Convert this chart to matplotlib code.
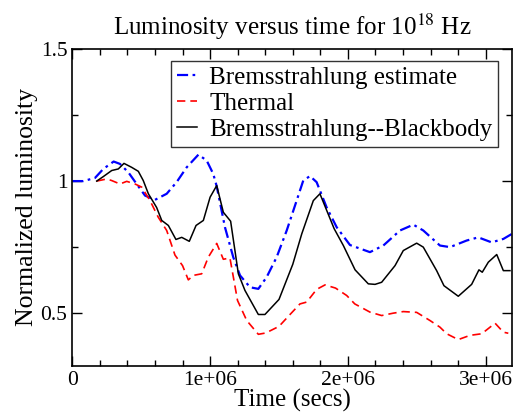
import matplotlib
matplotlib.use('Agg')
import matplotlib.pyplot as plt
from matplotlib.ticker import MultipleLocator

plt.rcParams['font.family'] = ['Liberation Serif', 'DejaVu Serif']
plt.rcParams['mathtext.fontset'] = 'stix'

# Bremsstrahlung estimate (time in 1e6 s)
t_brems = [0.0, 0.08, 0.165, 0.225, 0.30, 0.346, 0.407, 0.467, 0.528, 0.60, 0.685,
           0.757, 0.83, 0.915, 0.975, 1.023, 1.048, 1.108, 1.168, 1.217, 1.29, 1.35,
           1.41, 1.483, 1.556, 1.628, 1.676, 1.725, 1.773, 1.846, 1.919, 2.015, 2.16,
           2.257, 2.378, 2.475, 2.547, 2.668, 2.741, 2.862, 2.946, 3.043, 3.128, 3.19]
l_brems = [1.0, 1.0, 1.012, 1.046, 1.074, 1.065, 1.033, 0.989, 0.945, 0.929, 0.952,
           0.996, 1.052, 1.10, 1.078, 1.027, 0.980, 0.825, 0.712, 0.643, 0.598, 0.592,
           0.636, 0.712, 0.813, 0.926, 1.002, 1.019, 0.996, 0.90, 0.825, 0.758, 0.731,
           0.756, 0.813, 0.835, 0.813, 0.756, 0.75, 0.775, 0.787, 0.768, 0.781, 0.80]

# Thermal
t_therm = [0.177, 0.25, 0.286, 0.346, 0.395, 0.455, 0.504, 0.564, 0.624, 0.685,
           0.745, 0.80, 0.842, 0.878, 0.939, 0.987, 1.048, 1.096, 1.144, 1.199,
           1.266, 1.35, 1.404, 1.50, 1.58, 1.652, 1.701, 1.773, 1.834, 1.91, 1.991,
           2.05, 2.16, 2.245, 2.329, 2.402, 2.499, 2.596, 2.668, 2.717, 2.801, 2.886,
           2.971, 3.068, 3.128, 3.164]
l_therm = [1.0, 1.008, 1.002, 0.989, 0.999, 0.989, 0.977, 0.926, 0.863, 0.813,
           0.72, 0.68, 0.626, 0.643, 0.649, 0.712, 0.764, 0.704, 0.709, 0.548,
           0.472, 0.42, 0.425, 0.45, 0.495, 0.535, 0.542, 0.59, 0.607, 0.595, 0.567,
           0.535, 0.504, 0.491, 0.50, 0.506, 0.503, 0.472, 0.447, 0.422, 0.40, 0.416,
           0.422, 0.462, 0.428, 0.424]

# Bremsstrahlung--Blackbody
t_bb = [0.177, 0.225, 0.286, 0.334, 0.375, 0.431, 0.479, 0.515, 0.552, 0.612, 0.649,
        0.697, 0.752, 0.794, 0.849, 0.898, 0.951, 1.0, 1.048, 1.096, 1.149, 1.205,
        1.253, 1.35, 1.398, 1.50, 1.60, 1.665, 1.749, 1.797, 1.90, 1.967, 2.052,
        2.148, 2.197, 2.245, 2.342, 2.402, 2.499, 2.547, 2.644, 2.697, 2.801, 2.898,
        2.951, 2.975, 3.019, 3.080, 3.128, 3.176]
l_bb = [1.0, 1.017, 1.04, 1.046, 1.067, 1.052, 1.037, 1.002, 0.952, 0.90, 0.851,
        0.832, 0.779, 0.787, 0.772, 0.832, 0.851, 0.939, 0.983, 0.882, 0.848, 0.649,
        0.586, 0.495, 0.495, 0.552, 0.685, 0.80, 0.926, 0.952, 0.82, 0.756, 0.664,
        0.611, 0.609, 0.617, 0.68, 0.737, 0.765, 0.75, 0.661, 0.604, 0.564, 0.609,
        0.664, 0.655, 0.693, 0.722, 0.661, 0.661]

fig = plt.figure(figsize=(5.16, 4.12), dpi=100)
ax = fig.add_axes([72.3 / 516, 1 - 366 / 412, 440 / 516, 317 / 412])

ax.plot([t * 1e6 for t in t_brems], l_brems, color='blue', lw=1.6,
        dashes=(5, 2, 1.2, 2), label='Bremsstrahlung estimate')
ax.plot([t * 1e6 for t in t_therm], l_therm, color='red', lw=1.2,
        dashes=(5, 3), label='Thermal')
ax.plot([t * 1e6 for t in t_bb], l_bb, color='black', lw=1.1,
        label='Bremsstrahlung--Blackbody')

ax.set_xlim(0, 3.193e6)
ax.set_ylim(0.3, 1.5)
ax.xaxis.set_minor_locator(MultipleLocator(2e5))
ax.yaxis.set_minor_locator(MultipleLocator(0.25))
ax.set_xticks([0, 1e6, 2e6, 3e6])
ax.set_xticklabels(['0', '1e+06', '2e+06', '3e+06'])
ax.set_yticks([0.5, 1.0, 1.5])
ax.set_yticklabels(['0.5', '1', '1.5'])
ax.tick_params(which='both', direction='in', top=True, right=True, labelsize=15.5)
ax.tick_params(which='major', length=7, width=1)
ax.tick_params(which='minor', length=4, width=1)
for s in ax.spines.values():
    s.set_linewidth(1.2)

ax.set_xlabel('Time (secs)', fontsize=18, labelpad=-1)
ax.set_ylabel('Normalized luminosity', fontsize=18.5, labelpad=2)
ax.set_title(r'Luminosity versus time for 10$^{18}$ Hz', fontsize=18, pad=10)

leg = ax.legend(loc='upper right', bbox_to_anchor=(0.968, 0.962), fontsize=18,
                frameon=True, fancybox=False, edgecolor='black', handlelength=0.8,
                handletextpad=0.5, borderpad=0.22, labelspacing=0.14, borderaxespad=0)
leg.get_frame().set_linewidth(1.0)

fig.savefig('out.png', dpi=100)
